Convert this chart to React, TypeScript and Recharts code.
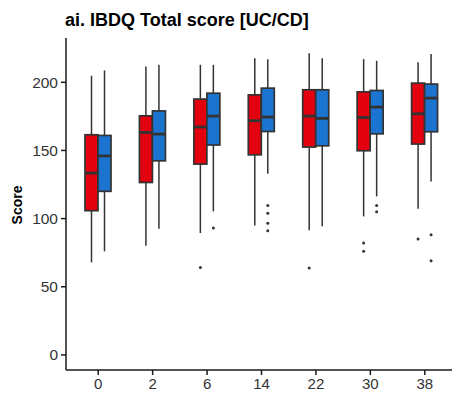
import { BarChart, Bar, XAxis, YAxis } from 'recharts';

// weeks since baseline
const weeks = ['0', '2', '6', '14', '22', '30', '38'];

// UC summary stats per week
const ucMin = [67.9, 80.1, 89.4, 95.0, 91.4, 101.6, 107.3];
const ucQ1 = [105.8, 126.5, 140.0, 146.8, 152.5, 149.8, 154.7];
const ucMedian = [133.4, 163.2, 167.2, 171.8, 175.2, 174.2, 176.9];
const ucQ3 = [161.5, 175.4, 187.7, 190.8, 194.5, 193.0, 199.4];
const ucMax = [204.8, 211.6, 212.8, 217.7, 221.4, 217.0, 214.8];
const ucOutliers = [[], [], [64.2], [], [63.8], [82.1, 76.0], [85.0]];

// CD summary stats per week
const cdMin = [76.0, 92.6, 105.3, 132.9, 94.3, 116.3, 127.3];
const cdQ1 = [120.0, 142.4, 154.0, 163.9, 153.4, 162.2, 163.7];
const cdMedian = [146.0, 162.0, 175.2, 174.5, 173.5, 181.8, 188.4];
const cdQ3 = [161.0, 179.0, 192.0, 195.7, 194.5, 194.0, 198.7];
const cdMax = [208.7, 212.8, 212.8, 217.0, 217.7, 215.8, 220.7];
const cdOutliers = [[], [], [93.1], [109.6, 103.9, 96.6, 91.1], [], [109.7, 105.1], [88.2, 69.1]];

const yTicks = [0, 50, 100, 150, 200];

const data = weeks.map((w, i) => ({
  week: w,
  uc: [ucQ1[i], ucQ3[i]],
  cd: [cdQ1[i], cdQ3[i]],
  ucStats: { min: ucMin[i], q1: ucQ1[i], med: ucMedian[i], q3: ucQ3[i], max: ucMax[i], out: ucOutliers[i] },
  cdStats: { min: cdMin[i], q1: cdQ1[i], med: cdMedian[i], q3: cdQ3[i], max: cdMax[i], out: cdOutliers[i] },
}));

const INK = '#333333';

// box + whiskers + median + outliers, mapped from the bar's own q1..q3 geometry
const boxShape = (key: 'ucStats' | 'cdStats') => (props: any) => {
  const { x, y, width, height, payload, fill } = props;
  const s = payload[key];
  const top = Math.min(y, y + height);
  const h = Math.abs(height);
  const k = h / (s.q3 - s.q1);
  const yOf = (v: number) => top + (s.q3 - v) * k;
  const cx = x + width / 2;
  return (
    <g>
      <line x1={cx} x2={cx} y1={yOf(s.max)} y2={yOf(s.q3)} stroke={INK} strokeWidth={1.5} />
      <line x1={cx} x2={cx} y1={yOf(s.q1)} y2={yOf(s.min)} stroke={INK} strokeWidth={1.5} />
      <rect x={x} y={top} width={width} height={h} fill={fill} stroke={INK} strokeWidth={1.7} />
      <line x1={x} x2={x + width} y1={yOf(s.med)} y2={yOf(s.med)} stroke={INK} strokeWidth={2.8} />
      {s.out.map((v: number, j: number) => (
        <circle key={j} cx={cx} cy={yOf(v)} r={1.5} fill={INK} />
      ))}
    </g>
  );
};

export default function App() {
  return (
    <div
      style={{
        position: 'absolute',
        left: 0,
        top: 0,
        width: 452,
        height: 397,
        overflow: 'hidden',
        background: '#fff',
        fontFamily: '"Liberation Sans", Arial, sans-serif',
      }}
    >
      <div
        style={{
          position: 'absolute',
          left: 65,
          top: 10.5,
          fontSize: 18,
          lineHeight: '18px',
          fontWeight: 'bold',
          color: '#000',
          whiteSpace: 'nowrap',
        }}
      >
        ai. IBDQ Total score [UC/CD]
      </div>
      <div
        style={{
          position: 'absolute',
          left: 17,
          top: 205,
          transform: 'translate(-50%, -50%) rotate(-90deg)',
          fontSize: 14,
          fontWeight: 'bold',
          color: '#000',
          whiteSpace: 'nowrap',
        }}
      >
        Score
      </div>
      <BarChart
        width={452}
        height={397}
        data={data}
        margin={{ top: 38, right: 0, bottom: 0, left: 0 }}
        barSize={13}
        barGap={0}
      >
        <XAxis
          dataKey="week"
          height={27}
          padding={{ left: 5, right: 0 }}
          axisLine={{ stroke: '#1a1a1a', strokeWidth: 1.5 }}
          tickLine={{ stroke: '#1a1a1a', strokeWidth: 1.5 }}
          tickSize={5}
          tickMargin={3}
          tick={{ fill: '#333', fontSize: 15 }}
        />
        <YAxis
          type="number"
          width={66}
          domain={[-11.07, 232.5]}
          ticks={yTicks}
          allowDataOverflow
          axisLine={{ stroke: '#1a1a1a', strokeWidth: 1.5 }}
          tickLine={{ stroke: '#1a1a1a', strokeWidth: 1.5 }}
          tickSize={5}
          tickMargin={3}
          tick={{ fill: '#333', fontSize: 15.5 }}
        />
        <Bar dataKey="uc" fill="#e3000f" shape={boxShape('ucStats')} isAnimationActive={false} />
        <Bar dataKey="cd" fill="#1b75d0" shape={boxShape('cdStats')} isAnimationActive={false} />
      </BarChart>
    </div>
  );
}
